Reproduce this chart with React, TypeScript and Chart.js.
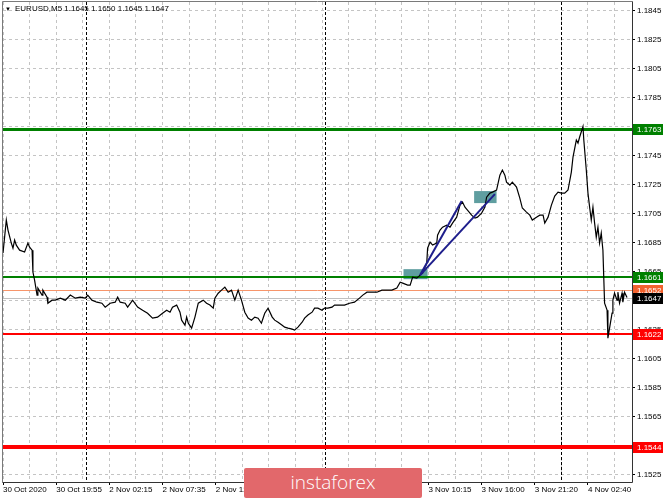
import React, { useEffect, useRef } from "react";
import { Chart, registerables } from "chart.js";

Chart.register(...registerables);

// ---- data (bar index of M5 bars, close price) ----
const closeByBar: [number, number][] = [
  [0, 1.16777], [4, 1.17005], [6, 1.16936], [10, 1.16846], [12, 1.16811], [14, 1.16867], [16, 1.16832],
  [20, 1.16797], [26, 1.16784], [30, 1.16846], [32, 1.16818], [35, 1.16797], [36, 1.16646], [38, 1.1659],
  [41, 1.16487], [42, 1.16535], [47, 1.16487], [48, 1.16521], [53, 1.16473], [54, 1.16431], [59, 1.16452],
  [63, 1.16452], [69, 1.16466], [75, 1.16452], [81, 1.16487], [87, 1.16466], [93, 1.16473], [99, 1.16466],
  [102, 1.16487], [107, 1.16452], [113, 1.16438], [119, 1.16431], [123, 1.16404], [129, 1.16431],
  [135, 1.16438], [138, 1.16473], [141, 1.16438], [147, 1.16431], [150, 1.16404], [156, 1.16452],
  [162, 1.16404], [168, 1.16383], [174, 1.16362], [180, 1.16328], [186, 1.16335], [192, 1.16362],
  [197, 1.16383], [201, 1.16369], [204, 1.16404], [209, 1.16418], [213, 1.16369], [215, 1.16314],
  [219, 1.16279], [221, 1.16335], [223, 1.16293], [227, 1.16259], [231, 1.16335], [235, 1.16431],
  [241, 1.16452], [245, 1.16431], [249, 1.16418], [253, 1.16397], [255, 1.16466], [259, 1.165],
  [263, 1.16521], [267, 1.16542], [271, 1.16507], [275, 1.16521], [279, 1.16452], [283, 1.16521],
  [287, 1.16452], [291, 1.16369], [295, 1.16328], [299, 1.16314], [303, 1.16335], [307, 1.16328],
  [311, 1.16293], [315, 1.16362], [319, 1.16397], [324, 1.16335], [327, 1.16314], [331, 1.163],
  [336, 1.16279], [339, 1.16266], [343, 1.16259], [348, 1.16252], [351, 1.16245], [355, 1.16266],
  [360, 1.163], [363, 1.16328], [367, 1.16349], [372, 1.16369], [375, 1.16397], [379, 1.16397],
  [384, 1.16383], [387, 1.16397], [391, 1.16397], [396, 1.16404], [399, 1.16418], [405, 1.16418],
  [411, 1.16418], [417, 1.16431], [423, 1.16438], [429, 1.16466], [433, 1.16487], [438, 1.16507],
  [444, 1.16507], [450, 1.16507], [456, 1.16521], [462, 1.16521], [468, 1.16521], [474, 1.16535],
  [478, 1.16576], [481, 1.1657], [487, 1.16556], [490, 1.16556], [493, 1.16611], [498, 1.16604],
  [502, 1.16625], [505, 1.16639], [510, 1.16708], [511, 1.16811], [514, 1.16853], [517, 1.16832],
  [522, 1.16846], [523, 1.16901], [526, 1.16936], [529, 1.16956], [534, 1.1697], [538, 1.16956],
  [541, 1.16984], [546, 1.17025], [550, 1.17108], [553, 1.17129], [556, 1.17094], [559, 1.17074],
  [564, 1.17039], [568, 1.17018], [571, 1.17025], [576, 1.17053], [580, 1.17094], [582, 1.17163],
  [586, 1.17191], [589, 1.17198], [594, 1.17212], [598, 1.17315], [601, 1.1735], [604, 1.17315],
  [606, 1.17267], [610, 1.17246], [613, 1.17267], [618, 1.17232], [622, 1.17156], [625, 1.17088],
  [630, 1.1706], [634, 1.17039], [637, 1.17005], [642, 1.17025], [646, 1.17039], [650, 1.17039],
  [652, 1.16984], [656, 1.17025], [660, 1.17108], [664, 1.1717], [668, 1.17198], [672, 1.17191],
  [676, 1.17191], [680, 1.17212], [684, 1.17336], [686, 1.1744], [690, 1.17557], [692, 1.17536],
  [694, 1.17578], [698, 1.1765], [699, 1.17557], [702, 1.1735], [704, 1.17191], [706, 1.17094],
  [708, 1.17005], [710, 1.17094], [712, 1.16984], [714, 1.16887], [716, 1.16956], [718, 1.16846],
  [720, 1.16915], [722, 1.16797], [723, 1.16611], [724, 1.16431], [727, 1.16383], [728, 1.1619],
  [730, 1.16259], [733, 1.16362], [734, 1.16452], [736, 1.165], [739, 1.16452], [740, 1.16507],
  [742, 1.16431], [745, 1.165], [746, 1.16438], [748, 1.16507], [751, 1.1647],
];

const headerSymbol = "EURUSD,M5";
const headerOHLC = ["1.1645", "1.1650", "1.1645", "1.1647"];

const xAxisMin = 0;
const xAxisMax = 757;
const xGridBars = [0, 32, 64, 96, 128, 160, 192, 224, 256, 288, 320, 352, 384, 416, 448, 480, 512, 544, 576, 608, 640, 672, 704, 736];
const xLabelBars = [0, 64, 128, 192, 256, 320, 384, 448, 512, 576, 640, 704];
const timeLabels = [
  "30 Oct 2020", "30 Oct 19:55", "2 Nov 02:15", "2 Nov 07:35", "2 Nov 12:55", "2 Nov 18:15",
  "2 Nov 23:35", "3 Nov 04:55", "3 Nov 10:15", "3 Nov 16:00", "3 Nov 21:20", "4 Nov 02:40",
];
const daySeparatorBars = [100, 388, 672];

const yAxisMin = 1.15197;
const yAxisMax = 1.1851;
const yTickValues = [1.1525, 1.1545, 1.1565, 1.1585, 1.1605, 1.1625, 1.1645, 1.1665, 1.1685, 1.1705, 1.1725, 1.1745, 1.1765, 1.1785, 1.1805, 1.1825, 1.1845];

const levelPrices = [1.1763, 1.1661, 1.1652, 1.1647, 1.1622, 1.1544];
const levelLineColors = ["#008000", "#008000", "#f7956a", "#c0c0c0", "#ff0000", "#ff0000"];
const levelLineWidths = [3, 2, 1, 1, 2, 4];
const levelLabelColors = ["#008000", "#008000", "#f2622e", "#000000", "#ff0000", "#ff0000"];

const trendFromBar = [502, 502];
const trendFromPrice = [1.16625, 1.16625];
const trendToBar = [552, 592];
const trendToPrice = [1.17136, 1.17184];

const boxFromBar = [482, 567];
const boxToBar = [511, 594];
const boxHigh = [1.16666, 1.17205];
const boxLow = [1.16597, 1.17122];

const FONT = "'Liberation Sans', Arial, sans-serif";

const mt4Plugin = {
  id: "mt4",
  beforeDatasetsDraw(chart: any) {
    const { ctx, chartArea: a, scales } = chart;
    const x = scales.x;
    const y = scales.y;
    ctx.save();
    ctx.beginPath();
    ctx.rect(a.left, a.top, a.right - a.left, a.bottom - a.top);
    ctx.clip();
    // boxes
    ctx.fillStyle = "#5f9ea0";
    for (let i = 0; i < boxFromBar.length; i++) {
      const x1 = x.getPixelForValue(boxFromBar[i]);
      const x2 = x.getPixelForValue(boxToBar[i]);
      const y1 = y.getPixelForValue(boxHigh[i]);
      const y2 = y.getPixelForValue(boxLow[i]);
      ctx.fillRect(x1, y1, x2 - x1, y2 - y1);
    }
    // day separators
    ctx.setLineDash([3, 2]);
    ctx.strokeStyle = "#000";
    ctx.lineWidth = 1;
    for (const b of daySeparatorBars) {
      const px = Math.round(x.getPixelForValue(b)) + 0.5;
      ctx.beginPath();
      ctx.moveTo(px, a.top);
      ctx.lineTo(px, a.bottom);
      ctx.stroke();
    }
    ctx.setLineDash([]);
    // levels
    for (let i = 0; i < levelPrices.length; i++) {
      const py = y.getPixelForValue(levelPrices[i]);
      ctx.strokeStyle = levelLineColors[i];
      ctx.lineWidth = levelLineWidths[i];
      const off = levelLineWidths[i] % 2 === 1 ? 0.5 : 0;
      const yy = Math.round(py) + off;
      ctx.beginPath();
      ctx.moveTo(a.left, yy);
      ctx.lineTo(a.right, yy);
      ctx.stroke();
    }
    ctx.restore();
  },
  afterDraw(chart: any) {
    const { ctx, chartArea: a, scales } = chart;
    const y = scales.y;
    ctx.save();
    // frame
    ctx.strokeStyle = "#7a7a7a";
    ctx.lineWidth = 1;
    ctx.beginPath();
    ctx.moveTo(a.left - 0.5, a.top - 0.5);
    ctx.lineTo(a.left - 0.5, a.bottom + 0.5);
    ctx.moveTo(a.left - 0.5, a.top - 0.5);
    ctx.lineTo(a.right + 0.5, a.top - 0.5);
    ctx.stroke();
    ctx.strokeStyle = "#333";
    ctx.beginPath();
    ctx.moveTo(a.right + 0.5, a.top - 0.5);
    ctx.lineTo(a.right + 0.5, a.bottom + 0.5);
    ctx.lineTo(a.left - 0.5, a.bottom + 0.5);
    ctx.stroke();
    // level labels
    ctx.font = `8px ${FONT}`;
    ctx.textBaseline = "middle";
    ctx.textAlign = "left";
    for (let i = 0; i < levelPrices.length; i++) {
      const py = Math.round(y.getPixelForValue(levelPrices[i]));
      ctx.fillStyle = levelLabelColors[i];
      ctx.fillRect(a.right + 1, py - 5, 30, 11);
      ctx.fillStyle = "#fff";
      ctx.fillText(levelPrices[i].toFixed(4), a.right + 5, py + 0.5);
    }
    // header
    ctx.fillStyle = "#000";
    ctx.font = `6px ${FONT}`;
    ctx.fillText("▼", 5, 9);
    ctx.font = `8px ${FONT}`;
    ctx.fillText(`${headerSymbol} ${headerOHLC.join(" ")}`, 15, 9);
    ctx.restore();
  },
};

export default function App() {
  const canvasRef = useRef<HTMLCanvasElement | null>(null);

  useEffect(() => {
    document.body.style.margin = "0";
    const canvas = canvasRef.current;
    if (!canvas) return;
    const chart = new Chart(canvas, {
      type: "line",
      data: {
        datasets: [
          {
            data: [
              { x: trendFromBar[0], y: trendFromPrice[0] },
              { x: trendToBar[0], y: trendToPrice[0] },
            ],
            borderColor: "#1e1e8c",
            borderWidth: 2,
            pointRadius: 0,
          },
          {
            data: [
              { x: trendFromBar[1], y: trendFromPrice[1] },
              { x: trendToBar[1], y: trendToPrice[1] },
            ],
            borderColor: "#1e1e8c",
            borderWidth: 2,
            pointRadius: 0,
          },
          {
            data: closeByBar.map(([b, p]) => ({ x: b, y: p })),
            borderColor: "#000",
            borderWidth: 1.2,
            pointRadius: 0,
            tension: 0,
          },
        ],
      },
      options: {
        animation: false,
        responsive: false,
        maintainAspectRatio: false,
        events: [],
        layout: { padding: { left: 3, top: 2, right: 0, bottom: 0 } },
        plugins: { legend: { display: false }, tooltip: { enabled: false } },
        scales: {
          x: {
            type: "linear",
            min: xAxisMin,
            max: xAxisMax,
            afterBuildTicks: (s: any) => {
              s.ticks = xGridBars.map((v) => ({ value: v }));
            },
            afterFit: (s: any) => {
              s.height = 17;
              s.paddingLeft = 0;
              s.paddingRight = 0;
            },
            grid: {
              color: "#c4c4c4",
              lineWidth: 1,
              drawTicks: true,
              tickLength: 3,
              tickWidth: 1,
              tickBorderDash: [],
              tickColor: (c: any) =>
                c.tick && xLabelBars.includes(c.tick.value) ? "#000" : "rgba(0,0,0,0)",
            },
            border: { display: false, dash: [3, 3] },
            ticks: {
              autoSkip: false,
              maxRotation: 0,
              minRotation: 0,
              align: "start",
              padding: 0,
              color: "#000",
              font: { family: FONT, size: 8 },
              callback: (v: any) => {
                const i = xLabelBars.indexOf(Number(v));
                return i >= 0 ? timeLabels[i] : "";
              },
            },
          },
          y: {
            type: "linear",
            position: "right",
            min: yAxisMin,
            max: yAxisMax,
            afterBuildTicks: (s: any) => {
              s.ticks = yTickValues.map((v) => ({ value: v }));
            },
            afterFit: (s: any) => {
              s.width = 33;
              s.paddingTop = 0;
              s.paddingBottom = 0;
            },
            grid: {
              color: "#c4c4c4",
              lineWidth: 1,
              drawTicks: true,
              tickLength: 3,
              tickWidth: 1,
              tickBorderDash: [],
              tickColor: "#000",
            },
            border: { display: false, dash: [3, 3] },
            ticks: {
              padding: 2,
              color: "#000",
              font: { family: FONT, size: 8 },
              callback: (v: any) => Number(v).toFixed(4),
            },
          },
        },
      },
      plugins: [mt4Plugin],
    } as any);
    return () => chart.destroy();
  }, []);

  return (
    <div style={{ position: "relative", width: 665, height: 499, background: "#fff", overflow: "hidden" }}>
      <canvas ref={canvasRef} width={665} height={499} style={{ width: 665, height: 499, display: "block" }} />
      <div
        style={{
          position: "absolute",
          left: 244,
          top: 468,
          width: 178,
          height: 30,
          background: "#e2686b",
          borderRadius: 2,
          color: "#fff",
          fontFamily: "'Open Sans', sans-serif",
          fontSize: 19,
          fontWeight: 300,
          lineHeight: "28px",
          textAlign: "center",
        }}
      >
        instaforex
      </div>
    </div>
  );
}
